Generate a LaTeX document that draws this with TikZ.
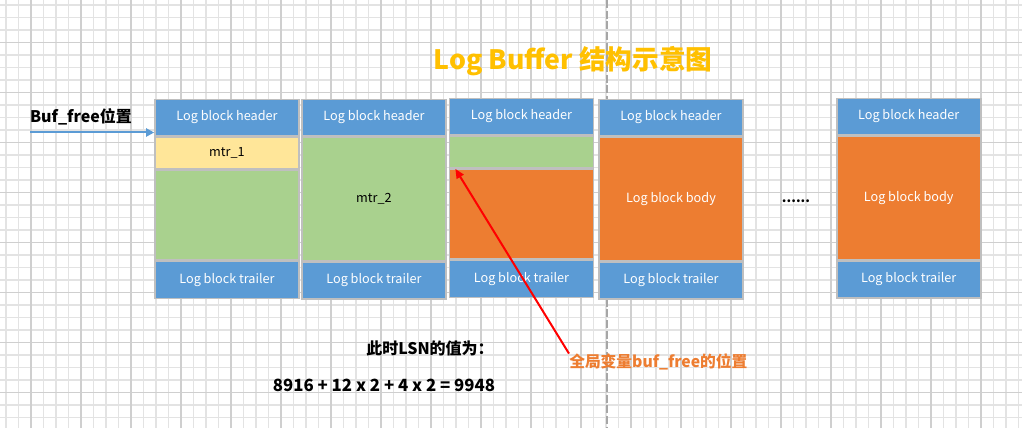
\documentclass[tikz,border=0pt]{standalone}
\usepackage{fontspec}
\setmainfont{Noto Sans CJK SC}
\usetikzlibrary{positioning,arrows.meta}
\definecolor{hdrblue}{HTML}{5B9BD5}
\definecolor{bodyorange}{HTML}{ED7D31}
\definecolor{mtrgreen}{HTML}{A9D18E}
\definecolor{mtryellow}{HTML}{FFE699}
\definecolor{titlegold}{HTML}{FFC000}
\definecolor{cellline}{HTML}{BFBFBF}
\definecolor{gridlight}{HTML}{E3E3E3}
\definecolor{griddark}{HTML}{CFCFCF}

\begin{document}
\begin{tikzpicture}[x=0.75pt,y=-0.75pt,
		cell/.style={draw=cellline,line width=1.2pt,minimum width=108pt,inner sep=0pt,font=\fontsize{9.5}{11}\selectfont},
		hdr/.style={cell,fill=hdrblue,text=white,minimum height=27pt},
		trl/.style={cell,fill=hdrblue,text=white,minimum height=27.75pt},
		org/.style={cell,fill=bodyorange,text=white},
		grn/.style={cell,fill=mtrgreen},
		ylw/.style={cell,fill=mtryellow},
		note/.style={inner sep=0pt,font=\bfseries\fontsize{11.8}{14}\selectfont}]
	\useasboundingbox (0,0) rectangle (1022,428);
	\fill[white] (0,0) rectangle (1022,428);
	% background grid
	\foreach \k in {0,...,81} \draw[gridlight,line width=0.8pt] (6+12.5*\k,0) -- (6+12.5*\k,428);
	\foreach \k in {0,...,33} \draw[gridlight,line width=0.8pt] (0,5+12.5*\k) -- (1022,5+12.5*\k);
	\foreach \k in {0,...,19} \draw[griddark,line width=0.8pt] (31+50*\k,0) -- (31+50*\k,428);
	\foreach \k in {0,...,7} \draw[griddark,line width=0.8pt] (0,42.5+50*\k) -- (1022,42.5+50*\k);
	\draw[gray!70,line width=0.8pt,dash pattern=on 6pt off 2pt] (607,0) -- (607,428);

	\node[text=titlegold,font=\bfseries\fontsize{20}{24}\selectfont] (title) at (573,61) {Log Buffer 结构示意图};

	% block 1
	\node[hdr] (h1) at (227,117.5) {Log block header};
	\node[ylw,minimum height=24pt,below=0pt of h1] (m1) {mtr\_1};
	\node[grn,minimum height=67pt,below=0pt of m1] (g1) {};
	\node[trl,below=0pt of g1] (t1) {Log block trailer};
	% block 2
	\node[hdr] (h2) at (374,117.5) {Log block header};
	\node[grn,minimum height=92.5pt,below=0pt of h2] (g2) {mtr\_2};
	\node[trl,below=0pt of g2] (t2) {Log block trailer};
	% block 3
	\node[hdr] (h3) at (521.5,116.5) {Log block header};
	\node[grn,minimum height=24pt,below=0pt of h3] (g3) {};
	\node[org,minimum height=67pt,below=0pt of g3] (o3) {};
	\node[trl,below=0pt of o3] (t3) {Log block trailer};
	% block 4
	\node[hdr] (h4) at (671,117.5) {Log block header};
	\node[org,minimum height=92.5pt,below=0pt of h4] (o4) {Log block body};
	\node[trl,below=0pt of o4] (t4) {Log block trailer};
	% block 5
	\node[hdr] (h5) at (908.7,116.5) {Log block header};
	\node[org,minimum height=92.5pt,below=0pt of h5] (o5) {Log block body};
	\node[trl,below=0pt of o5] (t5) {Log block trailer};

	\node[font=\bfseries\fontsize{10}{12}\selectfont] (dots) at (796,201) {......};

	% buf_free pointers
	\node[note,font=\bfseries\fontsize{12}{14}\selectfont] (bftxt) at (81,117) {Buf\_free位置};
	\coordinate (bfs) at (30,132.5);
	\draw[hdrblue,line width=1.5pt,-{Triangle[length=6pt,width=6pt]}] (bfs) -- (bfs -| h1.west);

	\node[note,text=bodyorange,anchor=west] (gbf) at (569,362) {全局变量buf\_free的位置};
	\draw[red,line width=1.5pt,-{Triangle[length=7pt,width=6pt]}] (gbf.north west) -- ([xshift=5pt]g3.south west);

	\node[note,font=\bfseries\fontsize{12}{14}\selectfont] (lsn) at (430,348) {此时LSN的值为：};
	\node[note,font=\bfseries\fontsize{12.6}{15}\selectfont] (sum) at (384,385) {8916 + 12 x 2 + 4 x 2 = 9948};
\end{tikzpicture}
\end{document}
